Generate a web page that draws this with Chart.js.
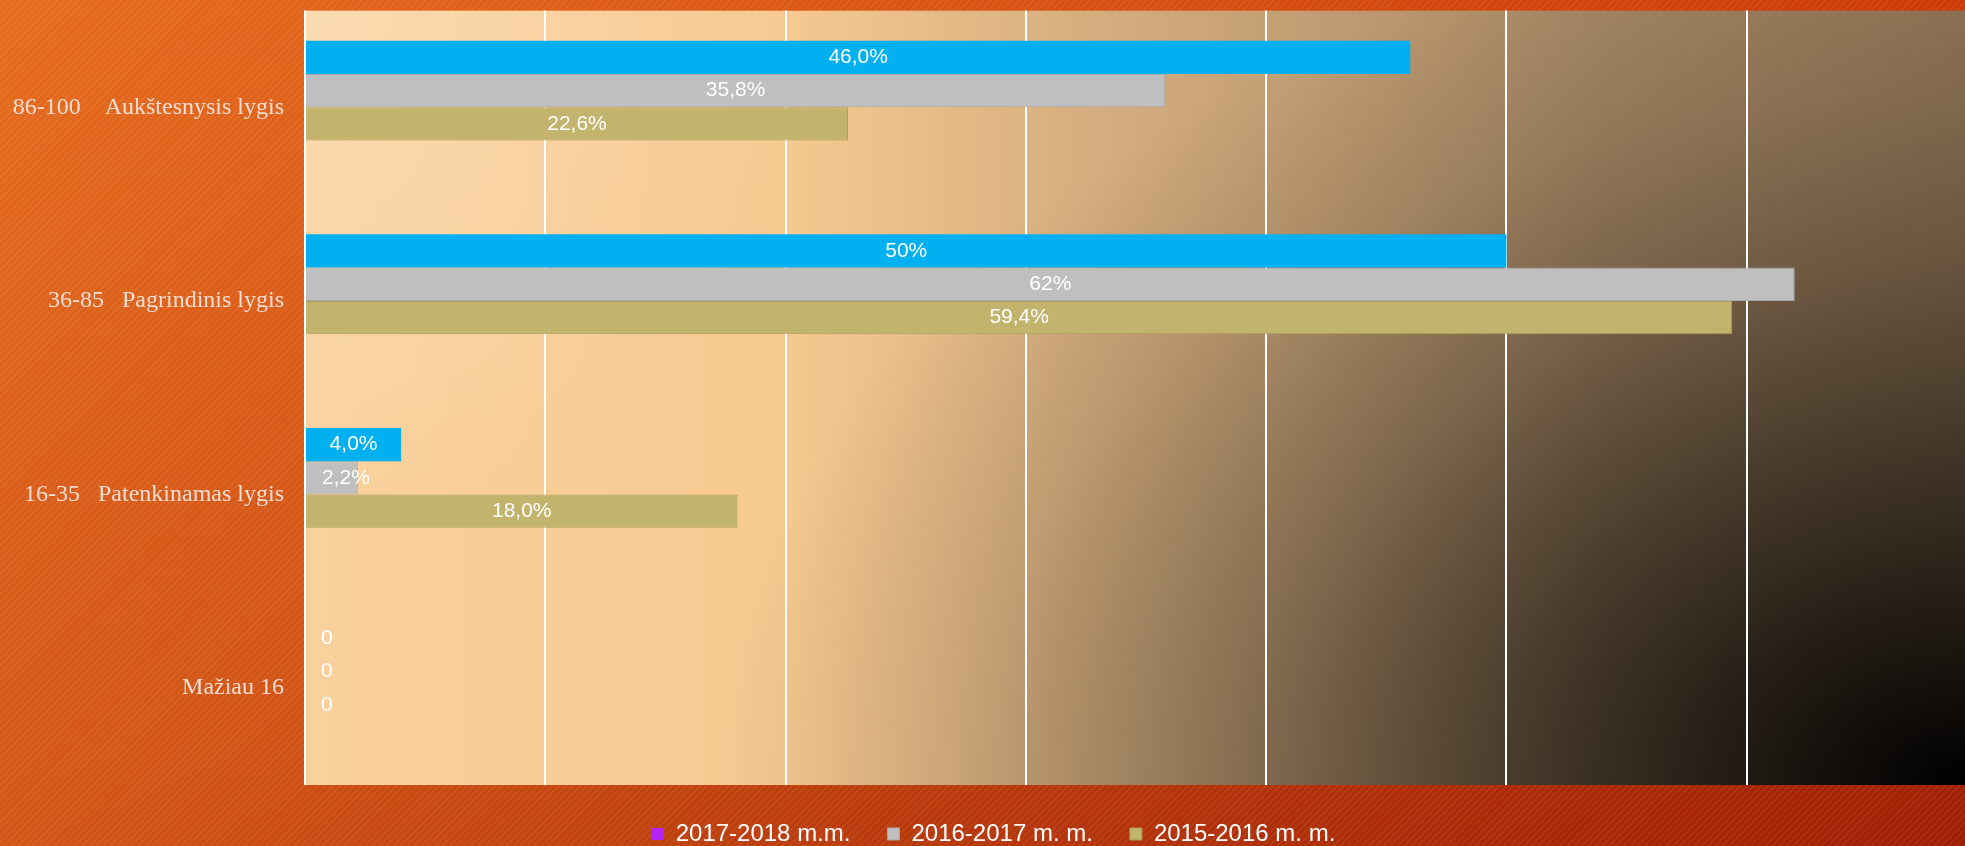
<!DOCTYPE html>
<html>
<head>
<meta charset="utf-8">
<title>Lygiai</title>
<script src="https://cdn.jsdelivr.net/npm/chart.js@4.4.1/dist/chart.umd.min.js"></script>
<style>
    html, body { margin: 0; padding: 0; width: 1965px; height: 846px; overflow: hidden; }
    body {
        background:
            repeating-linear-gradient(135deg, rgba(255,255,255,0.05) 0px, rgba(255,255,255,0.05) 2px, rgba(0,0,0,0) 2px, rgba(0,0,0,0) 5px),
            linear-gradient(to bottom right, rgba(120,10,0,0) 50%, rgba(120,10,0,0.45) 100%),
            linear-gradient(to bottom, rgba(150,20,0,0) 0%, rgba(150,20,0,0.25) 100%),
            linear-gradient(to right, #e66c1e 0%, #cc3a08 100%);
    }
    /* bigger than the window: last gridline, top gap and bottom edge fall outside, like the picture */
    #wrap { position: absolute; left: 0; top: -25px; width: 1987px; height: 881px; }
</style>
</head>
<body>
<div id="wrap"><canvas id="levelChart"></canvas></div>
<script>

var categories = ['86-100    Aukštesnysis lygis', '36-85   Pagrindinis lygis', '16-35   Patenkinamas lygis', 'Mažiau 16'];

// blue series has no legend entry, purple 2017-2018 has no bars
var seriesBlue = [0.46, 0.50, 0.04, 0];
var series2016 = [0.358, 0.62, 0.022, 0];
var series2015 = [0.226, 0.594, 0.18, 0];
var series2017 = [null, null, null, null];

var labelsBlue = ['46,0%', '50%', '4,0%', '0'];
var labels2016 = ['35,8%', '62%', '2,2%', '0'];
var labels2015 = ['22,6%', '59,4%', '18,0%', '0'];

var legendOrder = {3: 0, 1: 1, 2: 2};

var xMax = 0.7;
var xStep = 0.1;


// peach -> brown plot area, dark towards the bottom right corner
var plotBackground = {
    id: 'plotBackground',
    beforeDraw: function (chart) {
        var ctx = chart.ctx;
        var a = chart.chartArea;
        ctx.save();
        ctx.beginPath();
        ctx.rect(a.left, a.top, a.right - a.left, a.bottom - a.top);
        ctx.clip();

        var g = ctx.createLinearGradient(a.left, 0, a.right, 0);
        g.addColorStop(0, '#f9d19c');
        g.addColorStop(0.285, '#f6c990');
        g.addColorStop(0.45, '#d8b080');
        g.addColorStop(0.77, '#a68764');
        g.addColorStop(1, '#927656');
        ctx.fillStyle = g;
        ctx.fillRect(a.left, a.top, a.right - a.left, a.bottom - a.top);

        // light corner top left
        var h = ctx.createRadialGradient(a.left, a.top, 0, a.left, a.top, 520);
        h.addColorStop(0, 'rgba(255,255,255,0.22)');
        h.addColorStop(1, 'rgba(255,255,255,0)');
        ctx.fillStyle = h;
        ctx.fillRect(a.left, a.top, a.right - a.left, a.bottom - a.top);

        // dark corner bottom right (ellipse, squeezed vertically)
        var k = 1.45;
        ctx.translate(1965, a.bottom);
        ctx.scale(1, 1 / k);
        var d = ctx.createRadialGradient(0, 0, 0, 0, 0, 1250);
        d.addColorStop(0, 'rgba(0,0,0,1)');
        d.addColorStop(0.3, 'rgba(0,0,0,0.65)');
        d.addColorStop(0.6, 'rgba(0,0,0,0.3)');
        d.addColorStop(0.8, 'rgba(0,0,0,0.12)');
        d.addColorStop(1, 'rgba(0,0,0,0)');
        ctx.fillStyle = d;
        ctx.fillRect(a.left - 1965, (a.top - a.bottom) * k, a.right - a.left + 100, (a.bottom - a.top) * k);
        ctx.restore();
    }
};

// white value labels, in the middle of the bar, pushed right when the bar is too short
var valueLabels = {
    id: 'valueLabels',
    afterDatasetsDraw: function (chart) {
        var ctx = chart.ctx;
        ctx.save();
        ctx.font = "21px 'Liberation Sans', Arial, sans-serif";
        ctx.fillStyle = '#ffffff';
        ctx.textAlign = 'center';
        ctx.textBaseline = 'middle';
        chart.data.datasets.forEach(function (ds, i) {
            if (!ds.valueLabels) return;
            var meta = chart.getDatasetMeta(i);
            meta.data.forEach(function (bar, j) {
                var text = ds.valueLabels[j];
                var w = ctx.measureText(text).width;
                var x = Math.max((bar.base + bar.x) / 2, bar.base + 16 + w / 2);
                ctx.fillText(text, x, bar.y);
            });
        });
        ctx.restore();
    }
};

var data = {
    labels: categories,
    datasets: [
        {
            label: '',
            data: seriesBlue,
            valueLabels: labelsBlue,
            backgroundColor: '#00b0f0',
            borderWidth: 0
        },
        {
            label: '2016-2017 m. m.',
            data: series2016,
            valueLabels: labels2016,
            backgroundColor: '#bfbfbf',
            borderColor: '#a8a8a8',
            borderWidth: 1
        },
        {
            label: '2015-2016 m. m.',
            data: series2015,
            valueLabels: labels2015,
            backgroundColor: '#c2b46c',
            borderColor: '#ab9e5c',
            borderWidth: 1
        },
        {
            label: '2017-2018 m.m.',
            data: series2017,
            backgroundColor: '#b324f5',
            borderWidth: 0
        }]
};

var canvas = document.getElementById('levelChart');
var ctx = canvas.getContext('2d');
var chart = new Chart(ctx, {
    type: 'bar',
    data: data,
    plugins: [plotBackground, valueLabels],
    options: {
        indexAxis: 'y',
        responsive: true,
        maintainAspectRatio: false,
        animation: false,
        devicePixelRatio: 1,
        categoryPercentage: 0.687,
        barPercentage: 1.0,
        layout: {
            padding: {top: 10, left: 0, right: 0, bottom: 0}
        },
        scales: {
            x: {
                min: 0,
                max: xMax,
                ticks: {display: false, stepSize: xStep},
                grid: {color: '#ffffff', lineWidth: 2, drawTicks: false},
                border: {display: false}
            },
            y: {
                grid: {display: false, drawTicks: false},
                border: {display: false},
                ticks: {
                    color: '#f2ddd3',
                    padding: 21,
                    font: {family: "'Liberation Serif', 'Times New Roman', serif", size: 24}
                },
                afterFit: function (scale) {
                    scale.width = 305;
                }
            }
        },
        plugins: {
            legend: {
                position: 'bottom',
                labels: {
                    color: '#ffffff',
                    boxWidth: 12,
                    boxHeight: 12,
                    padding: 37,
                    font: {family: "'Liberation Sans', Arial, sans-serif", size: 24},
                    filter: function (item) {
                        return item.text !== '';
                    },
                    sort: function (a, b) {
                        return legendOrder[a.datasetIndex] - legendOrder[b.datasetIndex];
                    }
                }
            },
            tooltip: {enabled: false}
        }
    }
});

</script>
</body>
</html>
